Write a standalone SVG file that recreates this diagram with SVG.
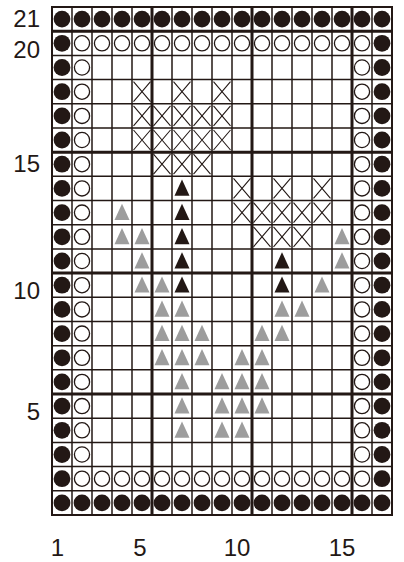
<svg xmlns="http://www.w3.org/2000/svg" xmlns:xlink="http://www.w3.org/1999/xlink" width="404" height="562" viewBox="0 0 404 562">
<style>
.lbl{font-family:"Liberation Sans",Arial,sans-serif;font-size:24px;fill:#231815}
.thin{stroke:#231815;stroke-width:1.5;fill:none}
.thick{stroke:#231815;stroke-width:3;fill:none}
</style>
<defs>
<circle id="f" r="8.4" fill="#231815"/>
<circle id="o" r="7.6" fill="#fff" stroke="#231815" stroke-width="1.3"/>
<path id="tb" d="M0,-8.8 L7.5,7.4 L-7.5,7.4 Z" fill="#231815"/>
<path id="tg" d="M0,-8.8 L7.5,7.4 L-7.5,7.4 Z" fill="#9d9d9d"/>
<path id="x" d="M-8.5,-10 L8.5,10 M-8.5,10 L8.5,-10" stroke="#231815" stroke-width="1.1" fill="none"/>
</defs>
<rect width="404" height="562" fill="#fff"/>
<g id="grid">
<path class="thin" d="M72,7V515M92,7V515M112,7V515M132,7V515M172,7V515M192,7V515M212,7V515M232,7V515M272,7V515M292,7V515M312,7V515M332,7V515M372,7V515"/>
<path class="thin" d="M52,55.38H392M52,79.57H392M52,103.76H392M52,127.95H392M52,176.33H392M52,200.52H392M52,224.71H392M52,248.9H392M52,297.28H392M52,321.47H392M52,345.66H392M52,369.85H392M52,418.23H392M52,442.42H392M52,466.61H392M52,490.8H392"/>
<path class="thick" d="M152,7V515M252,7V515M352,7V515M52,31.19H392M52,152.14H392M52,273.09H392M52,394.04H392"/>
<rect x="52" y="7" width="340" height="508" fill="none" stroke="#231815" stroke-width="2"/>
</g>
<g id="border-filled">
<use href="#f" x="62" y="19.1"/><use href="#f" x="82" y="19.1"/><use href="#f" x="102" y="19.1"/><use href="#f" x="122" y="19.1"/><use href="#f" x="142" y="19.1"/><use href="#f" x="162" y="19.1"/><use href="#f" x="182" y="19.1"/><use href="#f" x="202" y="19.1"/><use href="#f" x="222" y="19.1"/><use href="#f" x="242" y="19.1"/><use href="#f" x="262" y="19.1"/><use href="#f" x="282" y="19.1"/><use href="#f" x="302" y="19.1"/><use href="#f" x="322" y="19.1"/><use href="#f" x="342" y="19.1"/><use href="#f" x="362" y="19.1"/><use href="#f" x="382" y="19.1"/>
<use href="#f" x="62" y="502.9"/><use href="#f" x="82" y="502.9"/><use href="#f" x="102" y="502.9"/><use href="#f" x="122" y="502.9"/><use href="#f" x="142" y="502.9"/><use href="#f" x="162" y="502.9"/><use href="#f" x="182" y="502.9"/><use href="#f" x="202" y="502.9"/><use href="#f" x="222" y="502.9"/><use href="#f" x="242" y="502.9"/><use href="#f" x="262" y="502.9"/><use href="#f" x="282" y="502.9"/><use href="#f" x="302" y="502.9"/><use href="#f" x="322" y="502.9"/><use href="#f" x="342" y="502.9"/><use href="#f" x="362" y="502.9"/><use href="#f" x="382" y="502.9"/>
<use href="#f" x="62" y="43.3"/><use href="#f" x="62" y="67.5"/><use href="#f" x="62" y="91.7"/><use href="#f" x="62" y="115.9"/><use href="#f" x="62" y="140"/><use href="#f" x="62" y="164.2"/><use href="#f" x="62" y="188.4"/><use href="#f" x="62" y="212.6"/><use href="#f" x="62" y="236.8"/><use href="#f" x="62" y="261"/><use href="#f" x="62" y="285.2"/><use href="#f" x="62" y="309.4"/><use href="#f" x="62" y="333.6"/><use href="#f" x="62" y="357.8"/><use href="#f" x="62" y="381.9"/><use href="#f" x="62" y="406.1"/><use href="#f" x="62" y="430.3"/><use href="#f" x="62" y="454.5"/><use href="#f" x="62" y="478.7"/>
<use href="#f" x="382" y="43.3"/><use href="#f" x="382" y="67.5"/><use href="#f" x="382" y="91.7"/><use href="#f" x="382" y="115.9"/><use href="#f" x="382" y="140"/><use href="#f" x="382" y="164.2"/><use href="#f" x="382" y="188.4"/><use href="#f" x="382" y="212.6"/><use href="#f" x="382" y="236.8"/><use href="#f" x="382" y="261"/><use href="#f" x="382" y="285.2"/><use href="#f" x="382" y="309.4"/><use href="#f" x="382" y="333.6"/><use href="#f" x="382" y="357.8"/><use href="#f" x="382" y="381.9"/><use href="#f" x="382" y="406.1"/><use href="#f" x="382" y="430.3"/><use href="#f" x="382" y="454.5"/><use href="#f" x="382" y="478.7"/>
</g>
<g id="border-open">
<use href="#o" x="82" y="43.3"/><use href="#o" x="102" y="43.3"/><use href="#o" x="122" y="43.3"/><use href="#o" x="142" y="43.3"/><use href="#o" x="162" y="43.3"/><use href="#o" x="182" y="43.3"/><use href="#o" x="202" y="43.3"/><use href="#o" x="222" y="43.3"/><use href="#o" x="242" y="43.3"/><use href="#o" x="262" y="43.3"/><use href="#o" x="282" y="43.3"/><use href="#o" x="302" y="43.3"/><use href="#o" x="322" y="43.3"/><use href="#o" x="342" y="43.3"/><use href="#o" x="362" y="43.3"/>
<use href="#o" x="82" y="478.7"/><use href="#o" x="102" y="478.7"/><use href="#o" x="122" y="478.7"/><use href="#o" x="142" y="478.7"/><use href="#o" x="162" y="478.7"/><use href="#o" x="182" y="478.7"/><use href="#o" x="202" y="478.7"/><use href="#o" x="222" y="478.7"/><use href="#o" x="242" y="478.7"/><use href="#o" x="262" y="478.7"/><use href="#o" x="282" y="478.7"/><use href="#o" x="302" y="478.7"/><use href="#o" x="322" y="478.7"/><use href="#o" x="342" y="478.7"/><use href="#o" x="362" y="478.7"/>
<use href="#o" x="82" y="67.5"/><use href="#o" x="82" y="91.7"/><use href="#o" x="82" y="115.9"/><use href="#o" x="82" y="140"/><use href="#o" x="82" y="164.2"/><use href="#o" x="82" y="188.4"/><use href="#o" x="82" y="212.6"/><use href="#o" x="82" y="236.8"/><use href="#o" x="82" y="261"/><use href="#o" x="82" y="285.2"/><use href="#o" x="82" y="309.4"/><use href="#o" x="82" y="333.6"/><use href="#o" x="82" y="357.8"/><use href="#o" x="82" y="381.9"/><use href="#o" x="82" y="406.1"/><use href="#o" x="82" y="430.3"/><use href="#o" x="82" y="454.5"/>
<use href="#o" x="362" y="67.5"/><use href="#o" x="362" y="91.7"/><use href="#o" x="362" y="115.9"/><use href="#o" x="362" y="140"/><use href="#o" x="362" y="164.2"/><use href="#o" x="362" y="188.4"/><use href="#o" x="362" y="212.6"/><use href="#o" x="362" y="236.8"/><use href="#o" x="362" y="261"/><use href="#o" x="362" y="285.2"/><use href="#o" x="362" y="309.4"/><use href="#o" x="362" y="333.6"/><use href="#o" x="362" y="357.8"/><use href="#o" x="362" y="381.9"/><use href="#o" x="362" y="406.1"/><use href="#o" x="362" y="430.3"/><use href="#o" x="362" y="454.5"/>
</g>
<g id="crosses">
<use href="#x" x="142" y="91.7"/><use href="#x" x="182" y="91.7"/><use href="#x" x="222" y="91.7"/>
<use href="#x" x="142" y="115.9"/><use href="#x" x="162" y="115.9"/><use href="#x" x="182" y="115.9"/><use href="#x" x="202" y="115.9"/><use href="#x" x="222" y="115.9"/>
<use href="#x" x="142" y="140"/><use href="#x" x="162" y="140"/><use href="#x" x="182" y="140"/><use href="#x" x="202" y="140"/><use href="#x" x="222" y="140"/>
<use href="#x" x="162" y="164.2"/><use href="#x" x="182" y="164.2"/><use href="#x" x="202" y="164.2"/>
<use href="#x" x="242" y="188.4"/><use href="#x" x="282" y="188.4"/><use href="#x" x="322" y="188.4"/>
<use href="#x" x="242" y="212.6"/><use href="#x" x="262" y="212.6"/><use href="#x" x="282" y="212.6"/><use href="#x" x="302" y="212.6"/><use href="#x" x="322" y="212.6"/>
<use href="#x" x="262" y="236.8"/><use href="#x" x="282" y="236.8"/><use href="#x" x="302" y="236.8"/>
</g>
<g id="black-triangles">
<use href="#tb" x="182" y="188.4"/><use href="#tb" x="182" y="212.6"/><use href="#tb" x="182" y="236.8"/><use href="#tb" x="182" y="261"/><use href="#tb" x="182" y="285.2"/>
<use href="#tb" x="282" y="261"/><use href="#tb" x="282" y="285.2"/>
</g>
<g id="gray-triangles">
<use href="#tg" x="122" y="212.6"/>
<use href="#tg" x="122" y="236.8"/><use href="#tg" x="142" y="236.8"/><use href="#tg" x="342" y="236.8"/>
<use href="#tg" x="142" y="261"/><use href="#tg" x="342" y="261"/>
<use href="#tg" x="142" y="285.2"/><use href="#tg" x="162" y="285.2"/><use href="#tg" x="322" y="285.2"/>
<use href="#tg" x="162" y="309.4"/><use href="#tg" x="182" y="309.4"/><use href="#tg" x="282" y="309.4"/><use href="#tg" x="302" y="309.4"/>
<use href="#tg" x="162" y="333.6"/><use href="#tg" x="182" y="333.6"/><use href="#tg" x="202" y="333.6"/><use href="#tg" x="262" y="333.6"/><use href="#tg" x="282" y="333.6"/>
<use href="#tg" x="162" y="357.8"/><use href="#tg" x="182" y="357.8"/><use href="#tg" x="202" y="357.8"/><use href="#tg" x="242" y="357.8"/><use href="#tg" x="262" y="357.8"/>
<use href="#tg" x="182" y="381.9"/><use href="#tg" x="222" y="381.9"/><use href="#tg" x="242" y="381.9"/><use href="#tg" x="262" y="381.9"/>
<use href="#tg" x="182" y="406.1"/><use href="#tg" x="222" y="406.1"/><use href="#tg" x="242" y="406.1"/><use href="#tg" x="262" y="406.1"/>
<use href="#tg" x="182" y="430.3"/><use href="#tg" x="222" y="430.3"/><use href="#tg" x="242" y="430.3"/>
</g>
<g id="row-labels">
<text class="lbl" x="40" y="27" text-anchor="end">21</text>
<text class="lbl" x="40" y="58" text-anchor="end">20</text>
<text class="lbl" x="40" y="171.5" text-anchor="end">15</text>
<text class="lbl" x="40" y="298.5" text-anchor="end">10</text>
<text class="lbl" x="40" y="419.5" text-anchor="end">5</text>
</g>
<g id="col-labels">
<text class="lbl" x="57.5" y="555.5" text-anchor="middle">1</text>
<text class="lbl" x="140" y="555.5" text-anchor="middle">5</text>
<text class="lbl" x="237" y="555.5" text-anchor="middle">10</text>
<text class="lbl" x="342" y="555.5" text-anchor="middle">15</text>
</g>
</svg>
